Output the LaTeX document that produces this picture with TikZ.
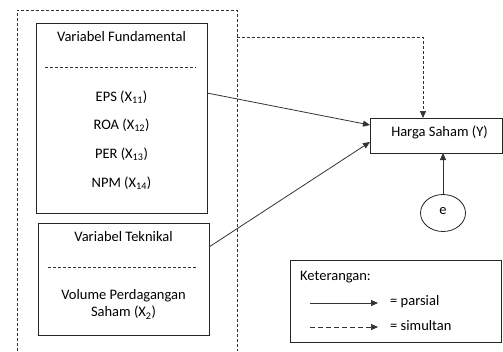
\documentclass[tikz,border=0pt]{standalone}
\usepackage{fontspec}
\setmainfont{Carlito}
\usetikzlibrary{arrows.meta,shapes.geometric}
\begin{document}
\begin{tikzpicture}[x=1pt,y=-1pt,
  box/.style={draw=black!85, line width=0.8pt, fill=white},
  txt/.style={font=\fontsize{14.5}{17}\selectfont, inner sep=0pt, text=black},
  arr/.style={-{Triangle[length=7pt,width=6pt]}, line width=0.8pt, draw=black!80},
  dsh/.style={dash pattern=on 3pt off 2pt, line width=0.7pt, draw=black!80}]
\useasboundingbox (0,0) rectangle (503,351);
% outer dashed group (open at bottom)
\draw[dsh] (17,351) -- (17,10) -- (237,10) -- (237,351);
% Fundamental box
\node[box, minimum width=171pt, minimum height=190pt, anchor=north west] (fund) at (36,23) {};
\node[txt] (fundt) at (121.5,37) {Variabel Fundamental};
\draw[dsh] (45,67) -- (196,67);
\node[txt] (eps) at (121.5,97) {EPS (X\textsubscript{11})};
\node[txt] (roa) at (121.5,125) {ROA (X\textsubscript{12})};
\node[txt] (per) at (121.5,154) {PER (X\textsubscript{13})};
\node[txt] (npm) at (121.5,183) {NPM (X\textsubscript{14})};
% Teknikal box
\node[box, minimum width=171pt, minimum height=112pt, anchor=north west] (tek) at (38,223) {};
\node[txt] (tekt) at (123.5,237) {Variabel Teknikal};
\draw[dsh] (48,267) -- (198,267);
\node[txt, align=center] (vol) at (123.5,304.5) {Volume Perdagangan\\Saham (X\textsubscript{2})};
% Harga Saham box
\node[box, minimum width=132pt, minimum height=35pt, anchor=north west] (y) at (370,118) {};
\node[txt] (yt) at (439.5,132) {Harga Saham (Y)};
% e circle
\node[draw=black!85, line width=0.8pt, ellipse, minimum width=45pt, minimum height=37pt, inner sep=0pt] (e) at (443,213) {};
\node[txt] (et) at (443,211) {e};
% connectors
\coordinate (a1) at (207,93);
\coordinate (a1e) at (370,125);
\coordinate (a2) at (209,247);
\coordinate (a2e) at (370,142);
\draw[arr] (a1) -- (a1e);
\draw[arr] (a2) -- (a2e);
\coordinate (s1) at (237,37);
\coordinate (s2) at (423,37);
\coordinate (s3) at (423,118);
\draw[dsh, -{Triangle[length=7pt,width=6pt]}] (s1) -- (s2) -- (s3);
\coordinate (eb) at (443,153);
\draw[arr] (e.north) -- (eb);
% legend
\node[box, minimum width=211pt, minimum height=82pt, anchor=north west] (leg) at (290,260) {};
\node[txt, anchor=west] (legt) at (300,277) {Keterangan:};
\coordinate (l1s) at (310,303);
\coordinate (l1e) at (378,303);
\coordinate (l2s) at (310,327);
\coordinate (l2e) at (378,327);
\draw[arr] (l1s) -- (l1e);
\draw[dsh, dash pattern=on 5pt off 3pt, -{Triangle[length=7pt,width=6pt]}] (l2s) -- (l2e);
\node[txt, anchor=west] (p) at (390,302) {= parsial};
\node[txt, anchor=west] (s) at (390,326) {= simultan};
\end{tikzpicture}
\end{document}
